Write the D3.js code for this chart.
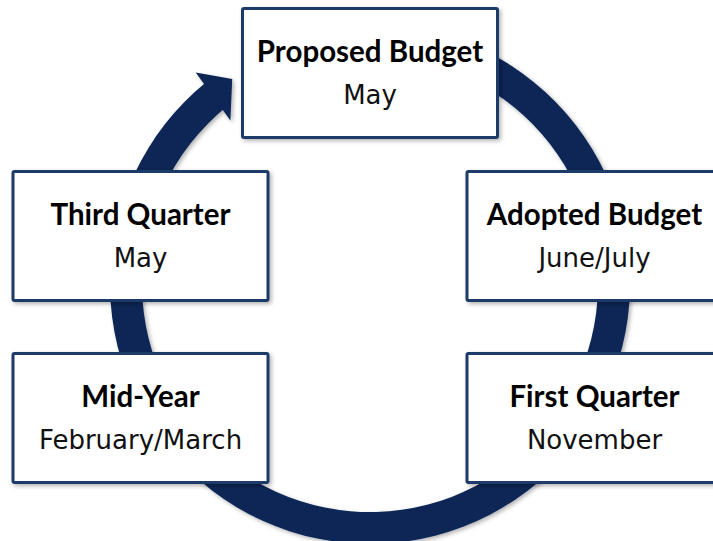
<!DOCTYPE html>
<html>
<head>
<meta charset="utf-8">
<script src="https://cdn.jsdelivr.net/npm/d3@7"></script>
<style>
  html, body { margin: 0; padding: 0; background: #fff; }
  svg { display: block; }
</style>
</head>
<body>
<div id="cycleViz"></div>
<script>
// budget cycle stages, in order round the ring
var titles = ["Proposed Budget", "Adopted Budget", "First Quarter", "Mid-Year", "Third Quarter"]
var months = ["May", "June/July", "November", "February/March", "May"]
var columns = ["center", "right", "right", "left", "left"]
var rows = ["top", "upper", "lower", "lower", "upper"]

var width = 713,
	height = 541,
	cx = 370,
	cy = 284

var boxW = 255,
	boxH = 129

var navy = "#0b2856",
	border = "#1f3b68"

var svg = d3.select("#cycleViz")
	.append("svg")
	.attr("width", width)
	.attr("height", height)

// soft shadows like the office shapes
var defs = svg.append("defs")
defs.append("filter")
	.attr("id", "shadow")
	.attr("x", "-20%").attr("y", "-20%")
	.attr("width", "140%").attr("height", "140%")
	.append("feDropShadow")
	.attr("dx", 2).attr("dy", 2)
	.attr("stdDeviation", 2)
	.attr("flood-color", "#000")
	.attr("flood-opacity", 0.3)

var x = d3.scaleOrdinal()
	.domain(["left", "center", "right"])
	.range([140.5, 370, 594.5])

var y = d3.scaleOrdinal()
	.domain(["top", "upper", "lower"])
	.range([73, 236, 418])

var deg = Math.PI / 180

// ring, clockwise from under the top box round to the arrow head
var ring = svg.append("g")
	.attr("transform", "translate(" + cx + "," + cy + ")")
	.attr("filter", "url(#shadow)")

ring.append("path")
	.attr("d", d3.arc()
		.innerRadius(228)
		.outerRadius(260)
		.startAngle(10 * deg)
		.endAngle(321 * deg)())
	.attr("fill", navy)

// arrow head, points given as [angle, radius]
function polar(a, r) {
	return [r * Math.sin(a * deg), -r * Math.cos(a * deg)]
}
var head = [polar(-39.5, 274), polar(-33.9, 247), polar(-40.5, 215)]
ring.append("path")
	.attr("d", d3.line()(head) + "Z")
	.attr("fill", navy)

// stage boxes
var stages = titles.map(function(t, i) {
	return {title: t, month: months[i], col: columns[i], row: rows[i]}
})

var box = svg.selectAll(".stage")
	.data(stages)
	.enter()
	.append("g")
	.attr("class", "stage")
	.attr("transform", function(d) { return "translate(" + x(d.col) + "," + y(d.row) + ")" })

box.append("rect")
	.attr("x", -boxW / 2)
	.attr("y", -boxH / 2)
	.attr("width", boxW)
	.attr("height", boxH)
	.attr("rx", 1.5)
	.attr("fill", "#fff")
	.attr("stroke", border)
	.attr("stroke-width", 3)
	.attr("filter", "url(#shadow)")

box.append("text")
	.text(function(d) { return d.title })
	.attr("y", -11)
	.attr("text-anchor", "middle")
	.attr("font-family", "Lato, sans-serif")
	.attr("font-weight", "bold")
	.attr("font-size", 29.5)
	.attr("fill", "#000")

box.append("text")
	.text(function(d) { return d.month })
	.attr("y", 31)
	.attr("text-anchor", "middle")
	.attr("font-family", "DejaVu Sans, sans-serif")
	.attr("font-size", 26)
	.attr("fill", "#111")
</script>
</body>
</html>
